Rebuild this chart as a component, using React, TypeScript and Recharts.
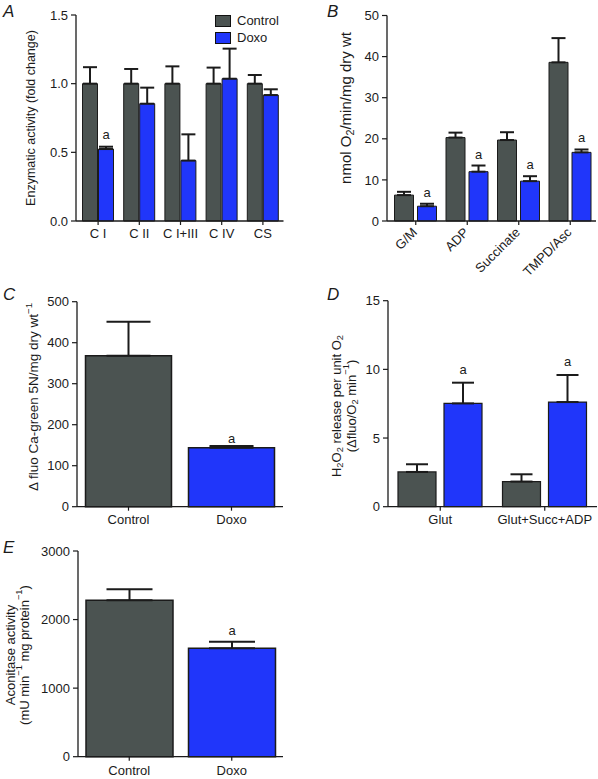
import React from "react";
import { BarChart, Bar, XAxis, YAxis, ErrorBar, LabelList, Legend, Cell } from "recharts";

const GRAY = "#4b5351";
const BLUE = "#2036fa";
const INK = "#1b1b1b";
const FONT = "'Liberation Sans', Arial, Helvetica, sans-serif";

// A – enzymatic activity (fold change)
const enzCats = ["C I", "C II", "C I+III", "C IV", "CS"];
const enzCtrl = [1, 1, 1, 1, 1];
const enzCtrlErr = [0.12, 0.107, 0.126, 0.117, 0.063];
const enzDoxo = [0.524, 0.854, 0.44, 1.036, 0.917];
const enzDoxoErr = [0.017, 0.117, 0.191, 0.219, 0.042];
const enzSig = ["a", "", "", "", ""];
const enzTicks = [0, 0.5, 1, 1.5];

// B – respiration, nmol O2/min/mg dry wt
const respCats = ["G/M", "ADP", "Succinate", "TMPD/Asc"];
const respCtrl = [6.3, 20.3, 19.7, 38.6];
const respCtrlErr = [0.8, 1.2, 1.9, 5.9];
const respDoxo = [3.6, 12.0, 9.7, 16.7];
const respDoxoErr = [0.6, 1.5, 1.2, 0.7];
const respSig = ["a", "a", "a", "a"];
const respTicks = [0, 10, 20, 30, 40, 50];

// C – calcium retention
const caCats = ["Control", "Doxo"];
const caVals = [368, 144];
const caErr = [83, 4];
const caSig = ["", "a"];
const caTicks = [0, 100, 200, 300, 400, 500];

// D – H2O2 release per unit O2
const rosCats = ["Glut", "Glut+Succ+ADP"];
const rosCtrl = [2.53, 1.83];
const rosCtrlErr = [0.56, 0.53];
const rosDoxo = [7.52, 7.62];
const rosDoxoErr = [1.51, 1.97];
const rosSig = ["a", "a"];
const rosTicks = [0, 5, 10, 15];

// E – aconitase activity
const acoCats = ["Control", "Doxo"];
const acoVals = [2280, 1580];
const acoErr = [162, 95];
const acoSig = ["", "a"];
const acoTicks = [0, 1000, 2000, 3000];

const groupColors = [GRAY, BLUE];

const grouped = (cats: string[], ctrl: number[], ctrlErr: number[], doxo: number[], doxoErr: number[], sig: string[]) =>
  cats.map((cat, i) => ({
    cat,
    ctrl: ctrl[i],
    ctrlErr: [0, ctrlErr[i]],
    doxo: doxo[i],
    doxoErr: [0, doxoErr[i]],
    sig: sig[i],
  }));

const single = (cats: string[], vals: number[], err: number[], sig: string[]) =>
  cats.map((cat, i) => ({ cat, val: vals[i], err: [0, err[i]], sig: sig[i] }));

const enzData = grouped(enzCats, enzCtrl, enzCtrlErr, enzDoxo, enzDoxoErr, enzSig);
const respData = grouped(respCats, respCtrl, respCtrlErr, respDoxo, respDoxoErr, respSig);
const caData = single(caCats, caVals, caErr, caSig);
const rosData = grouped(rosCats, rosCtrl, rosCtrlErr, rosDoxo, rosDoxoErr, rosSig);
const acoData = single(acoCats, acoVals, acoErr, acoSig);

type Seg = { t: string; s?: "sub" | "sup" };

function AxisTitle({ xs, cy, lines, size }: { xs: number[]; cy: number; lines: Seg[][]; size: number }) {
  return (
    <g>
      {lines.map((line, li) => {
        let shift = 0;
        return (
          <text
            key={li}
            x={xs[li]}
            y={cy}
            transform={`rotate(-90 ${xs[li]} ${cy})`}
            textAnchor="middle"
            dominantBaseline="central"
            fontSize={size}
            fill={INK}
            fontFamily={FONT}
            style={{ whiteSpace: "pre" }}
          >
            {line.map((seg, si) => {
              const target = seg.s === "sub" ? size * 0.3 : seg.s === "sup" ? -size * 0.38 : 0;
              const dy = target - shift;
              shift = target;
              return (
                <tspan key={si} dy={dy} fontSize={seg.s ? size * 0.72 : size}>
                  {seg.t}
                </tspan>
              );
            })}
          </text>
        );
      })}
    </g>
  );
}

// "a" marker sitting above the error bar cap
const sigLabel = (vals: number[], errs: number[], gap: number) => (p: any) => {
  const i = p.index;
  if (i == null || !p.value) return null;
  const vb = p.viewBox ?? p;
  const x = Number(p.x ?? vb.x);
  const y = Number(p.y ?? vb.y);
  const w = Number(p.width ?? vb.width);
  const h = Number(p.height ?? vb.height);
  const top = y - errs[i] * (h / vals[i]);
  return (
    <text x={x + w / 2} y={top - gap} textAnchor="middle" fontSize={13} fill={INK} fontFamily={FONT}>
      {p.value}
    </text>
  );
};

const tickStyle = { fontSize: 13, fill: INK, fontFamily: FONT };
const axisLine = { stroke: INK, strokeWidth: 1.3 };
const tickLine = { stroke: INK, strokeWidth: 1.2 };

const LegendBox = (props: any) => (
  <div style={{ fontFamily: FONT, fontSize: 13, color: INK }}>
    {(props.payload ?? []).map((e: any) => (
      <div key={e.value} style={{ display: "flex", alignItems: "center", height: 17 }}>
        <span
          style={{
            display: "inline-block",
            width: 14,
            height: 10,
            background: e.color,
            border: "1px solid #111",
            marginRight: 6,
          }}
        />
        <span>{e.value}</span>
      </div>
    ))}
  </div>
);

const RotTick = (p: any) => (
  <text
    transform={`translate(${p.x - 1},${p.y + 1}) rotate(-45)`}
    textAnchor="end"
    dominantBaseline="central"
    fontSize={13}
    fill={INK}
    fontFamily={FONT}
  >
    {p.payload.value}
  </text>
);

function PanelA() {
  return (
    <BarChart width={300} height={260} data={enzData} margin={{ top: 15, right: 16.5, left: 0, bottom: 9 }} barCategoryGap={5} barGap={1}>
      <XAxis dataKey="cat" interval={0} tick={tickStyle} tickSize={4} tickMargin={4} axisLine={axisLine} tickLine={tickLine} height={30} padding={{ left: 1.5, right: 0 }} />
      <YAxis
        width={76}
        domain={[0, 1.5]}
        ticks={enzTicks}
        tickFormatter={(v) => Number(v).toFixed(1)}
        tick={tickStyle}
        tickSize={5}
        tickMargin={3}
        axisLine={axisLine}
        tickLine={tickLine}
        label={() => <AxisTitle xs={[31]} cy={118} size={12.5} lines={[[{ t: "Enzymatic activity (fold change)" }]]} />}
      />
      <Legend layout="vertical" align="center" verticalAlign="middle" wrapperStyle={{ left: 215, top: 12, width: 85 }} content={LegendBox} />
      <Bar dataKey="ctrl" name="Control" fill={GRAY} stroke={INK} strokeWidth={1} isAnimationActive={false}>
        <ErrorBar dataKey="ctrlErr" width={7} stroke={INK} strokeWidth={2} direction="y" />
      </Bar>
      <Bar dataKey="doxo" name="Doxo" fill={BLUE} stroke={INK} strokeWidth={1} isAnimationActive={false}>
        <ErrorBar dataKey="doxoErr" width={7} stroke={INK} strokeWidth={2} direction="y" />
        <LabelList dataKey="sig" content={sigLabel(enzDoxo, enzDoxoErr, 8)} />
      </Bar>
    </BarChart>
  );
}

function PanelB() {
  return (
    <BarChart width={298} height={280} data={respData} margin={{ top: 15.5, right: 2, left: 0, bottom: 4 }} barCategoryGap={4.5} barGap={4}>
      <XAxis dataKey="cat" interval={0} tick={<RotTick />} tickSize={4} tickMargin={4} axisLine={axisLine} tickLine={tickLine} height={55} padding={{ left: 3, right: 0 }} />
      <YAxis
        width={87}
        domain={[0, 50]}
        ticks={respTicks}
        tick={tickStyle}
        tickSize={5}
        tickMargin={3}
        axisLine={axisLine}
        tickLine={tickLine}
        label={() => (
          <AxisTitle xs={[45]} cy={108} size={15} lines={[[{ t: "nmol O" }, { t: "2", s: "sub" }, { t: "/min/mg dry wt" }]]} />
        )}
      />
      <Bar dataKey="ctrl" name="Control" fill={GRAY} stroke={INK} strokeWidth={1} isAnimationActive={false}>
        <ErrorBar dataKey="ctrlErr" width={7} stroke={INK} strokeWidth={2} direction="y" />
      </Bar>
      <Bar dataKey="doxo" name="Doxo" fill={BLUE} stroke={INK} strokeWidth={1} isAnimationActive={false}>
        <ErrorBar dataKey="doxoErr" width={7} stroke={INK} strokeWidth={2} direction="y" />
        <LabelList dataKey="sig" content={sigLabel(respDoxo, respDoxoErr, 7)} />
      </Bar>
    </BarChart>
  );
}

function PanelC() {
  return (
    <BarChart width={300} height={260} data={caData} margin={{ top: 21.7, right: 17, left: 0, bottom: 8.3 }} barCategoryGap={8.5}>
      <XAxis dataKey="cat" interval={0} tick={tickStyle} tickSize={4} tickMargin={4} axisLine={axisLine} tickLine={tickLine} height={25} />
      <YAxis
        width={77}
        domain={[0, 500]}
        ticks={caTicks}
        tick={tickStyle}
        tickSize={5}
        tickMargin={3}
        axisLine={axisLine}
        tickLine={tickLine}
        label={() => (
          <AxisTitle xs={[33]} cy={117} size={13.5} lines={[[{ t: "Δ fluo Ca-green 5N/mg dry wt" }, { t: "−1", s: "sup" }]]} />
        )}
      />
      <Bar dataKey="val" stroke={INK} strokeWidth={1.5} isAnimationActive={false}>
        {caData.map((_, i) => (
          <Cell key={i} fill={groupColors[i]} />
        ))}
        <ErrorBar dataKey="err" width={22} stroke={INK} strokeWidth={2} direction="y" />
        <LabelList dataKey="sig" content={sigLabel(caVals, caErr, 3)} />
      </Bar>
    </BarChart>
  );
}

function PanelD() {
  return (
    <BarChart width={298} height={260} data={rosData} margin={{ top: 20.7, right: 1, left: 0, bottom: 8.3 }} barCategoryGap={10} barGap={8}>
      <XAxis dataKey="cat" interval={0} tick={tickStyle} tickSize={4} tickMargin={4} axisLine={axisLine} tickLine={tickLine} height={25} />
      <YAxis
        width={88}
        domain={[0, 15]}
        ticks={rosTicks}
        tick={tickStyle}
        tickSize={5}
        tickMargin={3}
        axisLine={axisLine}
        tickLine={tickLine}
        label={() => (
          <AxisTitle
            xs={[36, 51]}
            cy={126}
            size={13}
            lines={[
              [{ t: "H" }, { t: "2", s: "sub" }, { t: "O" }, { t: "2", s: "sub" }, { t: " release per unit O" }, { t: "2", s: "sub" }],
              [{ t: "(Δfluo/O" }, { t: "2", s: "sub" }, { t: " min" }, { t: "−1", s: "sup" }, { t: ")" }],
            ]}
          />
        )}
      />
      <Bar dataKey="ctrl" name="Control" fill={GRAY} stroke={INK} strokeWidth={1.2} isAnimationActive={false}>
        <ErrorBar dataKey="ctrlErr" width={11} stroke={INK} strokeWidth={2} direction="y" />
      </Bar>
      <Bar dataKey="doxo" name="Doxo" fill={BLUE} stroke={INK} strokeWidth={1.2} isAnimationActive={false}>
        <ErrorBar dataKey="doxoErr" width={11} stroke={INK} strokeWidth={2} direction="y" />
        <LabelList dataKey="sig" content={sigLabel(rosDoxo, rosDoxoErr, 9)} />
      </Bar>
    </BarChart>
  );
}

function PanelE() {
  return (
    <BarChart width={300} height={239} data={acoData} margin={{ top: 11, right: 17, left: 0, bottom: 0.3 }} barCategoryGap={8}>
      <XAxis dataKey="cat" interval={0} tick={tickStyle} tickSize={4} tickMargin={5} axisLine={axisLine} tickLine={tickLine} height={22} />
      <YAxis
        width={78}
        domain={[0, 3000]}
        ticks={acoTicks}
        tick={tickStyle}
        tickSize={5}
        tickMargin={3}
        axisLine={axisLine}
        tickLine={tickLine}
        label={() => (
          <AxisTitle
            xs={[9.5, 24]}
            cy={115}
            size={13}
            lines={[
              [{ t: "Aconitase activity" }],
              [{ t: "(mU min" }, { t: "−1", s: "sup" }, { t: " mg protein" }, { t: "−1", s: "sup" }, { t: ")" }],
            ]}
          />
        )}
      />
      <Bar dataKey="val" stroke={INK} strokeWidth={1.5} isAnimationActive={false}>
        {acoData.map((_, i) => (
          <Cell key={i} fill={groupColors[i]} />
        ))}
        <ErrorBar dataKey="err" width={23} stroke={INK} strokeWidth={2} direction="y" />
        <LabelList dataKey="sig" content={sigLabel(acoVals, acoErr, 7)} />
      </Bar>
    </BarChart>
  );
}

const panelLetters = [
  { t: "A", x: 3, y: 17 },
  { t: "B", x: 327, y: 17 },
  { t: "C", x: 3, y: 300 },
  { t: "D", x: 327, y: 300 },
  { t: "E", x: 3, y: 553 },
];

export default function App() {
  const box = (left: number, top: number): React.CSSProperties => ({ position: "absolute", left, top });
  return (
    <div style={{ position: "absolute", left: 0, top: 0, width: 598, height: 779, background: "#fff", overflow: "hidden" }}>
      <div style={box(0, 0)}><PanelA /></div>
      <div style={box(300, 0)}><PanelB /></div>
      <div style={box(0, 280)}><PanelC /></div>
      <div style={box(300, 280)}><PanelD /></div>
      <div style={box(0, 540)}><PanelE /></div>
      <svg width={598} height={779} style={{ position: "absolute", left: 0, top: 0, pointerEvents: "none" }}>
        {panelLetters.map((p) => (
          <text key={p.t} x={p.x} y={p.y} fontSize={17} fontStyle="italic" fill={INK} fontFamily={FONT}>
            {p.t}
          </text>
        ))}
      </svg>
    </div>
  );
}
